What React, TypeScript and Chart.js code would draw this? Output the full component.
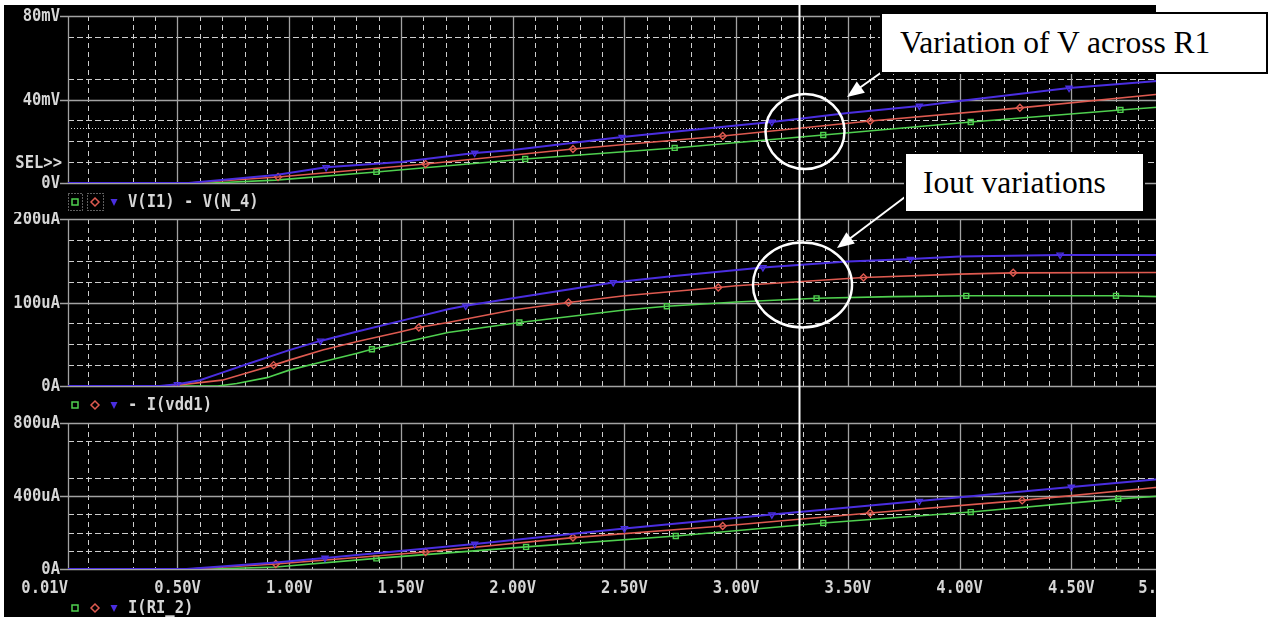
import React, { useEffect, useRef } from "react";
import { Chart, registerables } from "chart.js";

Chart.register(...registerables);

// ---------------- shared X axis (sweep voltage) ----------------
const xMin = 0.01;
const xMax = 5.0;
const xMajorValues = [0.01, 0.5, 1.0, 1.5, 2.0, 2.5, 3.0, 3.5, 4.0, 4.5, 5.0];
const xMinorValues = [
  0.1, 0.3, 0.4, 0.6, 0.7, 0.8, 0.9, 1.1, 1.2, 1.3, 1.4, 1.6, 1.7, 1.8, 1.9,
  2.1, 2.2, 2.3, 2.4, 2.6, 2.7, 2.8, 2.9, 3.1, 3.2, 3.3, 3.4, 3.6, 3.7, 3.8,
  3.9, 4.1, 4.2, 4.3, 4.4, 4.6, 4.7, 4.8, 4.9,
];
const xTickValues = [0.01, 0.5, 1.0, 1.5, 2.0, 2.5, 3.0, 3.5, 4.0, 4.5, 5.0];
const xTickLabels = ["0.01V", "0.50V", "1.00V", "1.50V", "2.00V", "2.50V", "3.00V", "3.50V", "4.00V", "4.50V", "5.00V"];
const cursorV = 3.28;

// ---------------- plot 1 : V(I1) - V(N_4)  [mV] ----------------
const vMax = 80;
const vMajor = [0, 40, 80];
const vMinor = [10, 20, 30, 50, 70];
const vTickLabels = ["0V", "40mV", "80mV"];
const vCursorLevel = 26.3;
const vLegend = "V(I1) - V(N_4)";

const vBlueX = [0.01, 0.55, 0.94, 1.165, 1.5, 1.83, 2.0, 2.49, 3.0, 3.16, 3.5, 3.82, 4.0, 4.49, 4.9];
const vBlueY = [0, 0, 3.8, 7.5, 10.1, 14.4, 15.8, 22, 27.5, 29.2, 33.5, 36.9, 39.3, 45.5, 49];
const vBlueMarks = [1.165, 1.83, 2.49, 3.16, 3.82, 4.49];

const vRedX = [0.01, 0.55, 0.95, 1.61, 2.27, 2.94, 3.6, 4.27, 4.9];
const vRedY = [0, 0, 2.9, 9.1, 16.3, 22.5, 29.7, 36, 42.6];
const vRedMarks = [0.95, 1.61, 2.27, 2.94, 3.6, 4.27];

const vGreenX = [0.01, 0.65, 0.94, 1.39, 2.056, 2.725, 3.39, 4.05, 4.72, 4.9];
const vGreenY = [0, 0, 1.4, 5.3, 11.5, 16.8, 23, 29.2, 35, 36.4];
const vGreenMarks = [1.39, 2.056, 2.725, 3.39, 4.05, 4.72];

// ---------------- plot 2 : - I(vdd1)  [uA] ----------------
const iMax = 200;
const iMajor = [0, 100, 200];
const iMinor = [25, 50, 75, 125, 150, 175];
const iTickLabels = ["0A", "100uA", "200uA"];
const iLegend = "- I(vdd1)";

const iBlueX = [0.01, 0.42, 0.5, 0.6, 0.7, 0.81, 1.0, 1.14, 1.3, 1.5, 1.71, 1.79, 2.0, 2.45, 2.7, 3.12, 3.5, 3.78, 4.0, 4.45, 4.9];
const iBlueY = [0, 0, 2, 7, 16, 26, 43, 54, 65, 78, 92, 96, 105, 124, 131, 142, 149, 152, 155, 157, 157];
const iBlueMarks = [0.5, 1.14, 1.79, 2.45, 3.12, 3.78, 4.45];

const iRedX = [0.01, 0.42, 0.5, 0.7, 0.81, 0.93, 1.0, 1.15, 1.3, 1.5, 1.58, 1.71, 2.0, 2.25, 2.5, 2.92, 3.0, 3.57, 4.0, 4.24, 4.9];
const iRedY = [0, 0, 1, 7, 15.6, 25, 31, 43, 53, 65, 70, 76, 91, 100, 108, 118, 120, 130, 134, 135.5, 136];
const iRedMarks = [0.93, 1.58, 2.25, 2.92, 3.57, 4.24];

const iGreenX = [0.01, 0.68, 0.765, 0.9, 1.0, 1.15, 1.3, 1.37, 1.5, 1.71, 2.03, 2.5, 2.69, 3.0, 3.36, 3.7, 4.03, 4.7, 4.9];
const iGreenY = [0, 0, 3, 10, 19, 29, 39, 44, 51.5, 64, 76, 91, 95.5, 100.6, 105, 107, 108, 108, 107];
const iGreenMarks = [1.37, 2.03, 2.69, 3.36, 4.03, 4.7];

// ---------------- plot 3 : I(RI_2)  [uA] ----------------
const rMax = 800;
const rMajor = [0, 400, 800];
const rMinor = [100, 200, 300, 500, 700];
const rTickLabels = ["0A", "400uA", "800uA"];
const rLegend = "I(RI_2)";

const rBlueX = [0.01, 0.54, 0.94, 1.16, 1.83, 2.5, 3.16, 3.82, 4.5, 4.9];
const rBlueY = [0, 0, 35, 60, 137, 222, 298, 372, 449, 493];
const rBlueMarks = [1.16, 1.83, 2.5, 3.16, 3.82, 4.5];

const rRedX = [0.01, 0.55, 0.94, 1.61, 2.27, 2.94, 3.6, 4.28, 4.9];
const rRedY = [0, 0, 27, 93, 172, 236, 307, 376, 449];
const rRedMarks = [0.94, 1.61, 2.27, 2.94, 3.6, 4.28];

const rGreenX = [0.01, 0.65, 0.94, 1.39, 2.06, 2.73, 3.39, 4.05, 4.71, 4.9];
const rGreenY = [0, 0, 11, 58, 121, 181, 252, 312, 384, 400];
const rGreenMarks = [1.39, 2.06, 2.73, 3.39, 4.05, 4.71];

// ---------------- styling ----------------
const GREEN = "#4fd04f";
const RED = "#de5a50";
const BLUE = "#4a2ee0";
const TXT = "#d6d6d6";
const MAJOR = "#a2a2a2";
const MINOR = "#cdcdcd";
const FONT = 'bold 15.5px "DejaVu Sans Mono", "Liberation Mono", monospace';

function drawMono(ctx: CanvasRenderingContext2D, s: string, x: number, y: number, align: CanvasTextAlign) {
  ctx.save();
  ctx.font = FONT;
  ctx.fillStyle = TXT;
  ctx.textAlign = align;
  ctx.textBaseline = "middle";
  ctx.translate(x, y);
  ctx.scale(1, 1.15);
  ctx.fillText(s, 0, 0);
  ctx.restore();
}

type PlotOpts = {
  yMajor: number[];
  yMinor: number[];
  yLabels: string[];
  legend: string;
  legendOffset: number;
  selected: boolean;
  hCursor?: number;
  showSel?: boolean;
  xLabels?: boolean;
  cursorStopsAtAxis: boolean;
};

function makeDecor(o: PlotOpts) {
  return {
    id: "pspiceDecor",
    beforeDatasetsDraw(chart: any) {
      const ctx: CanvasRenderingContext2D = chart.ctx;
      const a = chart.chartArea;
      const xs = chart.scales.x;
      const ys = chart.scales.y;
      ctx.save();
      ctx.lineWidth = 1;
      ctx.strokeStyle = MINOR;
      ctx.setLineDash([5, 4]);
      for (const v of xMinorValues) {
        const px = Math.round(xs.getPixelForValue(v)) + 0.5;
        ctx.beginPath();
        ctx.moveTo(px, a.top);
        ctx.lineTo(px, a.bottom);
        ctx.stroke();
      }
      ctx.setLineDash([6, 3]);
      for (const v of o.yMinor) {
        const py = Math.round(ys.getPixelForValue(v)) + 0.5;
        ctx.beginPath();
        ctx.moveTo(a.left, py);
        ctx.lineTo(a.right, py);
        ctx.stroke();
      }
      if (o.hCursor !== undefined) {
        ctx.setLineDash([1, 2]);
        ctx.strokeStyle = "#e0e0e0";
        const py = Math.round(ys.getPixelForValue(o.hCursor)) + 0.5;
        ctx.beginPath();
        ctx.moveTo(a.left, py);
        ctx.lineTo(a.right, py);
        ctx.stroke();
      }
      ctx.setLineDash([]);
      ctx.strokeStyle = MAJOR;
      ctx.lineWidth = 1.3;
      for (const v of xMajorValues) {
        const px = Math.round(xs.getPixelForValue(v)) + 0.5;
        ctx.beginPath();
        ctx.moveTo(px, a.top);
        ctx.lineTo(px, a.bottom);
        ctx.stroke();
      }
      o.yMajor.forEach((v, i) => {
        const py = Math.round(ys.getPixelForValue(v)) + 0.5;
        ctx.beginPath();
        ctx.moveTo(a.left - 8, py);
        ctx.lineTo(a.right, py);
        ctx.stroke();
        drawMono(ctx, o.yLabels[i], a.left - 8, py, "right");
      });
      if (o.showSel) drawMono(ctx, "SEL>>", a.left - 6, a.bottom - 20, "right");
      if (o.xLabels) {
        xTickValues.forEach((v, i) => {
          const px = xs.getPixelForValue(v);
          const last = i === xTickValues.length - 1;
          const align: CanvasTextAlign = i === 0 || last ? "right" : "center";
          const ax = last ? px + 2 : px;
          drawMono(ctx, xTickLabels[i], ax, a.bottom + 19, align);
        });
      }
      const ly = a.bottom + o.legendOffset;
      const gx = a.left + 7;
      const rx = a.left + 27;
      const bx = a.left + 46;
      if (o.selected) {
        ctx.setLineDash([1, 2]);
        ctx.strokeStyle = "#bdbdbd";
        ctx.lineWidth = 1;
        ctx.strokeRect(a.left + 0.5, ly - 8.5, 14, 17);
        ctx.strokeRect(a.left + 19.5, ly - 8.5, 16, 17);
        ctx.setLineDash([]);
      }
      ctx.lineWidth = 1.5;
      ctx.strokeStyle = GREEN;
      ctx.strokeRect(gx - 3, ly - 3, 6, 6);
      ctx.strokeStyle = RED;
      ctx.beginPath();
      ctx.moveTo(rx, ly - 4);
      ctx.lineTo(rx + 4, ly);
      ctx.lineTo(rx, ly + 4);
      ctx.lineTo(rx - 4, ly);
      ctx.closePath();
      ctx.stroke();
      ctx.fillStyle = BLUE;
      ctx.beginPath();
      ctx.moveTo(bx - 3.5, ly - 3);
      ctx.lineTo(bx + 3.5, ly - 3);
      ctx.lineTo(bx, ly + 4);
      ctx.closePath();
      ctx.fill();
      drawMono(ctx, o.legend, a.left + 60, ly, "left");
      ctx.restore();
    },
    afterDatasetsDraw(chart: any) {
      const ctx: CanvasRenderingContext2D = chart.ctx;
      const a = chart.chartArea;
      const px = Math.round(chart.scales.x.getPixelForValue(cursorV)) + 0.5;
      ctx.save();
      ctx.strokeStyle = "#ffffff";
      ctx.lineWidth = 2;
      ctx.beginPath();
      ctx.moveTo(px, 0);
      ctx.lineTo(px, o.cursorStopsAtAxis ? a.bottom : chart.height);
      ctx.stroke();
      ctx.restore();
    },
  };
}

function series(xs: number[], ys: number[], marks: number[], color: string, style: string, rotation: number, width: number) {
  return {
    data: xs.map((x, i) => ({ x, y: ys[i] })),
    borderColor: color,
    borderWidth: width,
    tension: 0,
    pointStyle: style,
    rotation,
    pointRadius: (c: any) => (c.raw && marks.includes(c.raw.x) ? 3.5 : 0),
    pointHoverRadius: 0,
    pointBorderColor: color,
    pointBackgroundColor: "rgba(0,0,0,0)",
    pointBorderWidth: 1.4,
  };
}

function makeChart(canvas: HTMLCanvasElement, datasets: any[], yMax: number, padding: any, decor: any) {
  return new Chart(canvas, {
    type: "line",
    data: { datasets },
    options: {
      animation: false,
      responsive: false,
      devicePixelRatio: 1,
      events: [],
      layout: { padding },
      plugins: { legend: { display: false }, tooltip: { enabled: false }, title: { display: false } },
      scales: {
        x: { type: "linear", min: xMin, max: xMax, display: false },
        y: { type: "linear", min: 0, max: yMax, display: false },
      },
    },
    plugins: [decor],
  } as any);
}

function arrowHead(tx: number, ty: number, fx: number, fy: number, len: number, half: number) {
  const dx = tx - fx;
  const dy = ty - fy;
  const L = Math.hypot(dx, dy);
  const ux = dx / L;
  const uy = dy / L;
  const bx = tx - ux * len;
  const by = ty - uy * len;
  const nx = -uy;
  const ny = ux;
  return `${tx},${ty} ${bx + nx * half},${by + ny * half} ${bx - nx * half},${by - ny * half}`;
}

export default function App() {
  const c1 = useRef<HTMLCanvasElement>(null);
  const c2 = useRef<HTMLCanvasElement>(null);
  const c3 = useRef<HTMLCanvasElement>(null);

  useEffect(() => {
    const ch1 = makeChart(
      c1.current!,
      [
        series(vBlueX, vBlueY, vBlueMarks, BLUE, "triangle", 180, 2),
        series(vRedX, vRedY, vRedMarks, RED, "rectRot", 0, 1.6),
        series(vGreenX, vGreenY, vGreenMarks, GREEN, "rect", 0, 1.6),
      ],
      vMax,
      { left: 64, right: 21, top: 11, bottom: 29 },
      makeDecor({ yMajor: vMajor, yMinor: vMinor, yLabels: vTickLabels, legend: vLegend, legendOffset: 19, selected: true, hCursor: vCursorLevel, showSel: true, cursorStopsAtAxis: false })
    );
    const ch2 = makeChart(
      c2.current!,
      [
        series(iBlueX, iBlueY, iBlueMarks, BLUE, "triangle", 180, 2),
        series(iRedX, iRedY, iRedMarks, RED, "rectRot", 0, 1.6),
        series(iGreenX, iGreenY, iGreenMarks, GREEN, "rect", 0, 1.6),
      ],
      iMax,
      { left: 64, right: 21, top: 7, bottom: 26 },
      makeDecor({ yMajor: iMajor, yMinor: iMinor, yLabels: iTickLabels, legend: iLegend, legendOffset: 19, selected: false, cursorStopsAtAxis: false })
    );
    const ch3 = makeChart(
      c3.current!,
      [
        series(rBlueX, rBlueY, rBlueMarks, BLUE, "triangle", 180, 2),
        series(rRedX, rRedY, rRedMarks, RED, "rectRot", 0, 1.6),
        series(rGreenX, rGreenY, rGreenMarks, GREEN, "rect", 0, 1.6),
      ],
      rMax,
      { left: 64, right: 21, top: 11, bottom: 48 },
      makeDecor({ yMajor: rMajor, yMinor: rMinor, yLabels: rTickLabels, legend: rLegend, legendOffset: 39, selected: false, xLabels: true, cursorStopsAtAxis: true })
    );
    return () => {
      ch1.destroy();
      ch2.destroy();
      ch3.destroy();
    };
  }, []);

  const boxText: React.CSSProperties = {
    position: "absolute",
    boxSizing: "border-box",
    background: "#ffffff",
    border: "2px solid #000000",
    display: "flex",
    alignItems: "center",
    fontFamily: '"Liberation Serif", "Times New Roman", serif',
    fontSize: 31.5,
    color: "#000000",
    whiteSpace: "nowrap",
  };

  return (
    <div style={{ position: "absolute", left: 0, top: 0, width: 1274, height: 617, background: "#ffffff", overflow: "hidden" }}>
      <div style={{ position: "absolute", left: 4, top: 5, width: 1152, height: 612, background: "#000000", overflow: "hidden" }}>
        <canvas ref={c1} width={1200} height={207} style={{ position: "absolute", left: 0, top: 0 }} />
        <canvas ref={c2} width={1200} height={200} style={{ position: "absolute", left: 0, top: 207 }} />
        <canvas ref={c3} width={1200} height={205} style={{ position: "absolute", left: 0, top: 407 }} />
      </div>
      <svg width={1274} height={617} style={{ position: "absolute", left: 0, top: 0 }}>
        <ellipse cx={805} cy={131.5} rx={39.5} ry={37.5} fill="none" stroke="#ffffff" strokeWidth={2.5} />
        <ellipse cx={802.5} cy={285} rx={49.5} ry={42.5} fill="none" stroke="#ffffff" strokeWidth={2.5} />
        <line x1={882} y1={72} x2={858} y2={89} stroke="#ffffff" strokeWidth={2} />
        <polygon points={arrowHead(847, 97, 882, 72, 17, 7)} fill="#ffffff" />
        <line x1={905} y1={197} x2={848} y2={240} stroke="#ffffff" strokeWidth={2} />
        <polygon points={arrowHead(837, 248, 905, 197, 17, 7)} fill="#ffffff" />
      </svg>
      <div style={{ ...boxText, left: 880, top: 12, width: 388, height: 62, paddingLeft: 18 }}>Variation of V across R1</div>
      <div style={{ ...boxText, left: 904, top: 152, width: 241, height: 61, paddingLeft: 17 }}>Iout variations</div>
    </div>
  );
}
